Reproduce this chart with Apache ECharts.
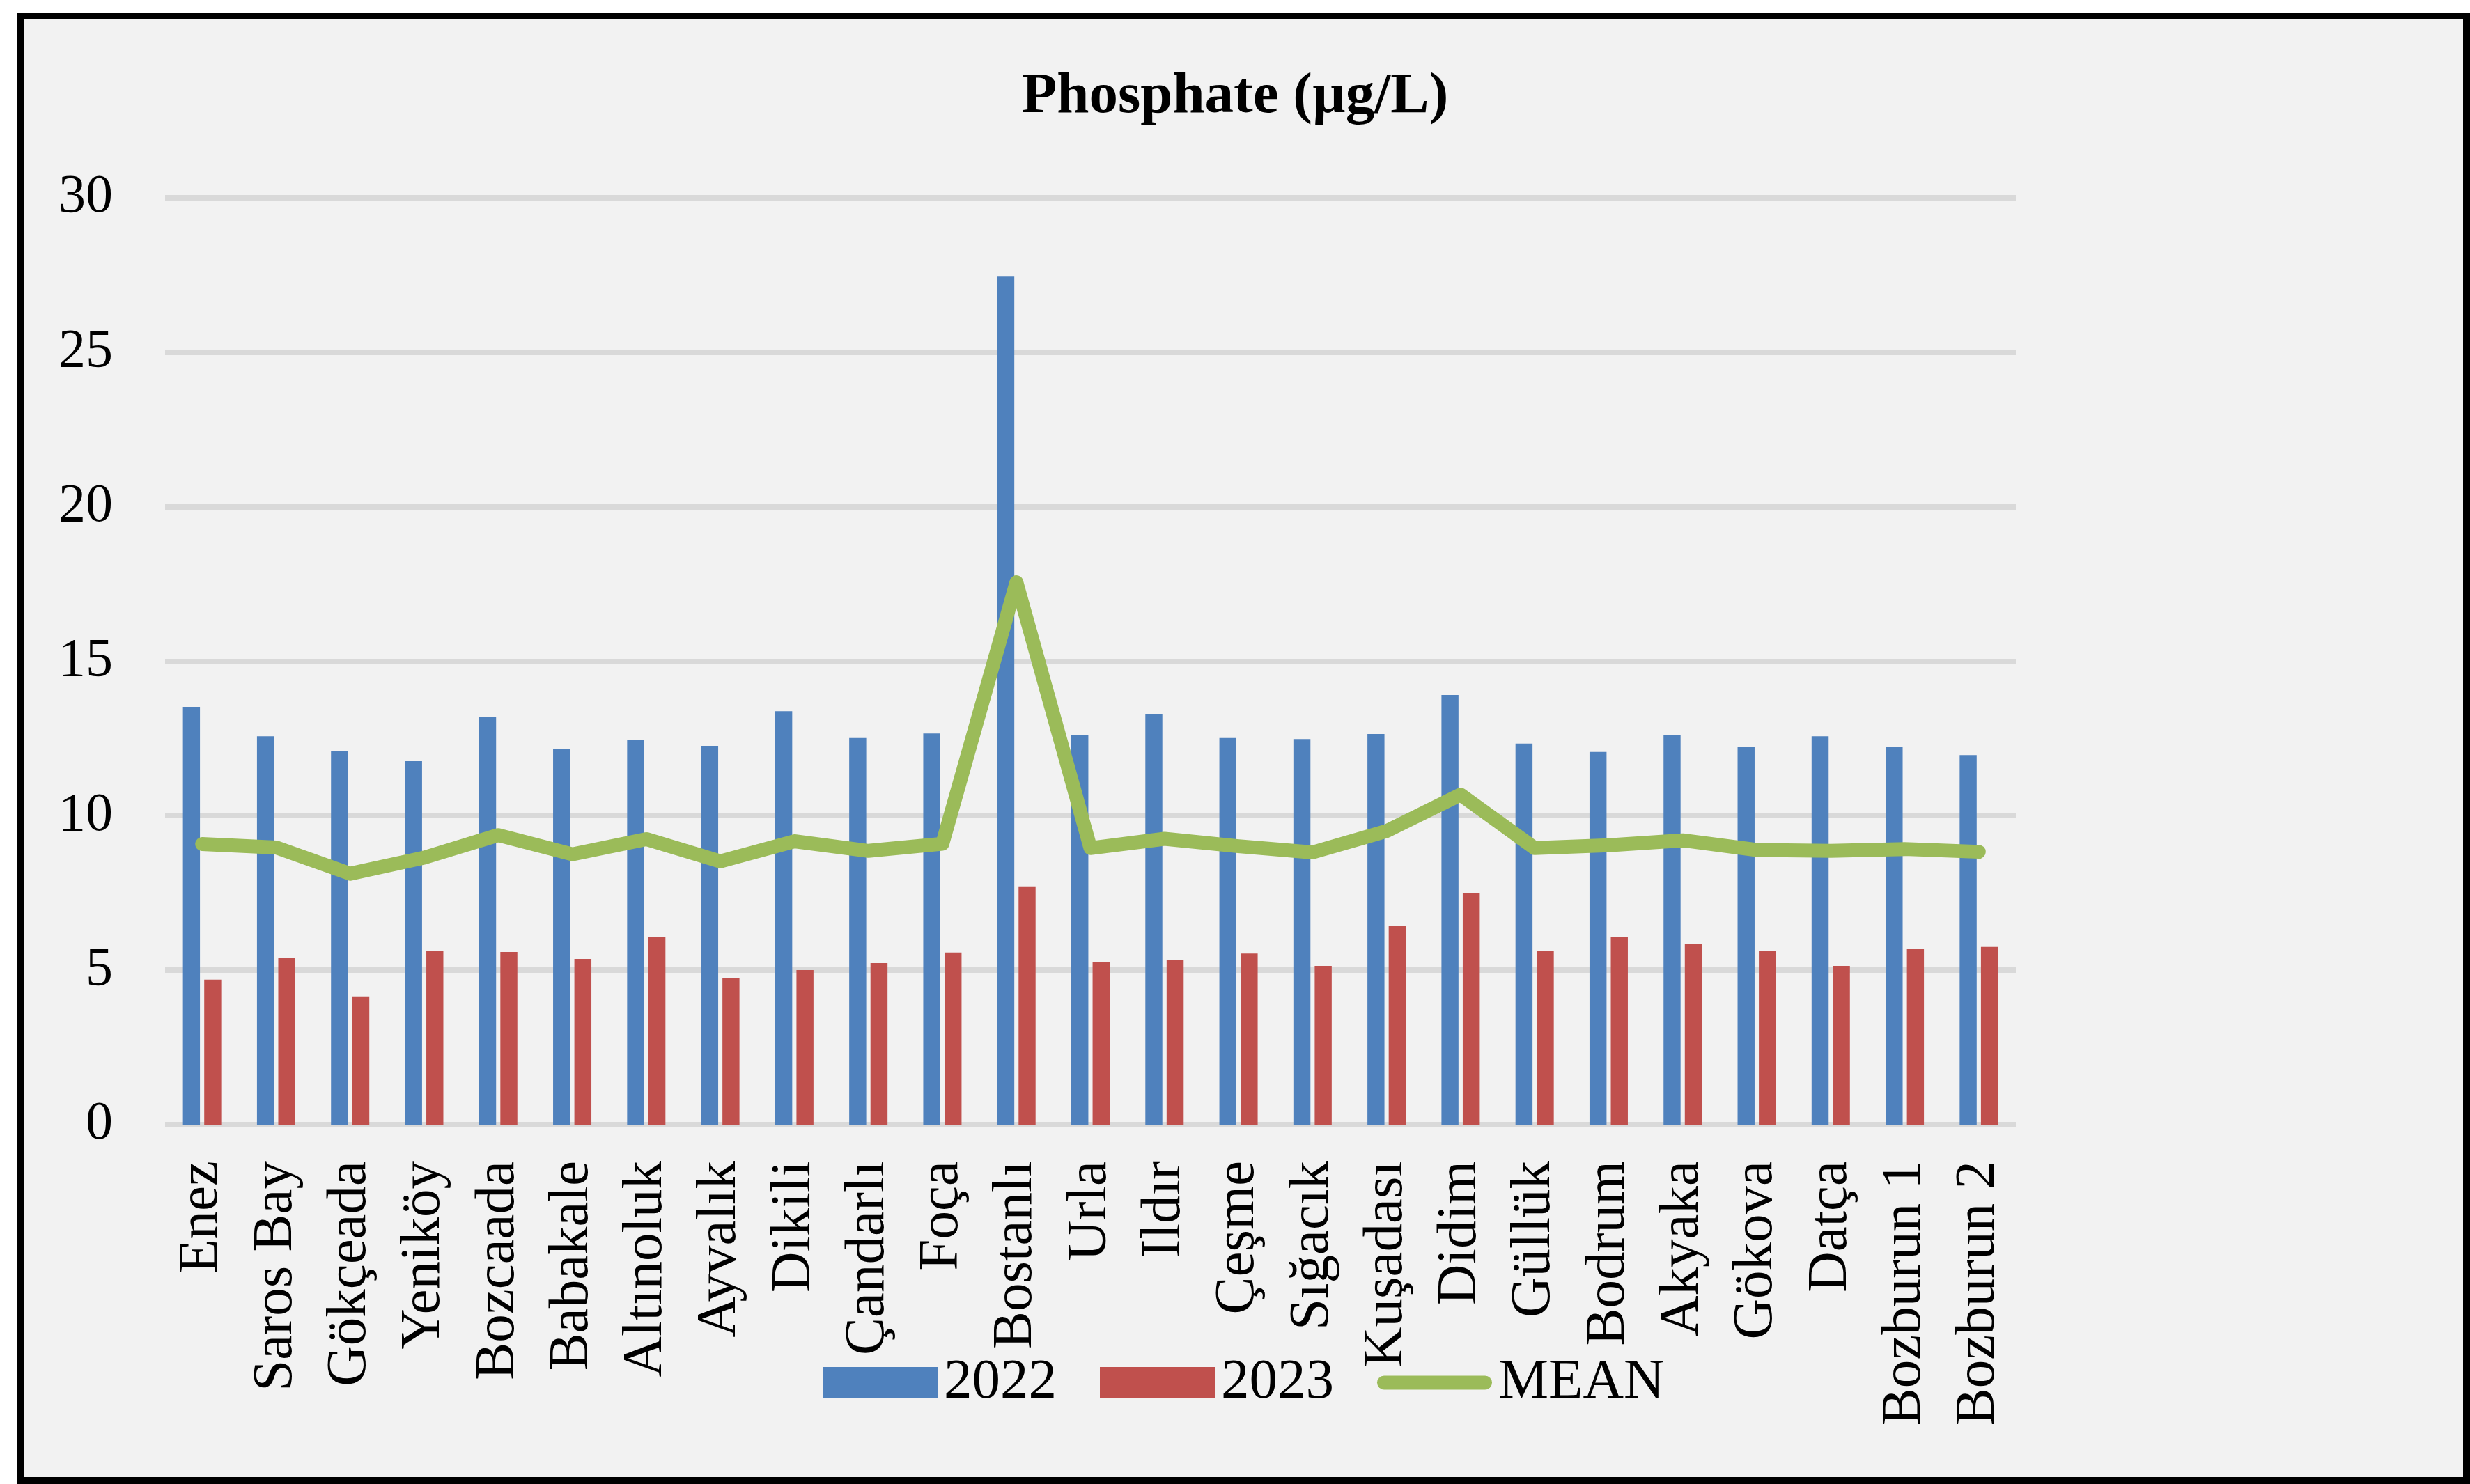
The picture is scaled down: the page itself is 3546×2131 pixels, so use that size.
<!DOCTYPE html>
<html>
<head>
<meta charset="utf-8">
<script src="https://cdn.jsdelivr.net/npm/echarts@6/dist/echarts.min.js"></script>
<style>
  html, body { margin:0; padding:0; background:#ffffff; }
  #frame { position:absolute; left:24px; top:18px; width:3522px; height:2113px; box-sizing:border-box; border:10px solid #000; background:#F2F2F2; }
  #chart { position:absolute; left:0; top:0; width:3546px; height:2131px; }
</style>
</head>
<body>
<div id="frame"></div>
<div id="chart"></div>
<script>
const categories = ['Enez','Saros Bay','Gökçeada','Yeniköy','Bozcaada','Babakale','Altınoluk','Ayvalık','Dikili','Çandarlı','Foça','Bostanlı','Urla','Ildır','Çeşme','Sığacık','Kuşadası','Didim','Güllük','Bodrum','Akyaka','Gökova','Datça','Bozburun 1','Bozburun 2'];
const values2022 = [13.52,12.57,12.10,11.76,13.20,12.15,12.44,12.26,13.38,12.51,12.66,27.44,12.62,13.27,12.51,12.48,12.64,13.90,12.33,12.06,12.60,12.21,12.57,12.21,11.96];
const values2023 = [4.69,5.39,4.15,5.61,5.59,5.36,6.08,4.75,5.00,5.23,5.57,7.71,5.27,5.32,5.54,5.14,6.42,7.50,5.61,6.08,5.84,5.61,5.14,5.68,5.75];
const valuesMean = [9.08,8.97,8.12,8.64,9.37,8.75,9.24,8.52,9.17,8.86,9.09,17.55,8.95,9.25,9.01,8.81,9.50,10.68,8.95,9.04,9.20,8.89,8.86,8.92,8.83];
const yTicks = { min: 0, max: 30, interval: 5 };

const FONT = '"Liberation Serif", "Times New Roman", serif';
const MEAN_ICON = 'path://M0,0 M165,45 M10,12.5 L155,12.5 A10,10 0 0 1 155,32.5 L10,32.5 A10,10 0 0 1 10,12.5 Z';
const chart = echarts.init(document.getElementById('chart'), null, { renderer: 'canvas' });
chart.setOption({
  backgroundColor: 'transparent',
  animation: false,
  title: {
    text: 'Phosphate (µg/L)',
    left: 'center',
    top: 98,
    padding: 0,
    textStyle: { fontFamily: FONT, fontWeight: 'bold', fontSize: 83, color: '#000' }
  },
  legend: {
    left: 1181,
    top: 1945,
    itemWidth: 165,
    itemHeight: 45,
    itemGap: 62,
    padding: 0,
    textStyle: { fontFamily: FONT, fontSize: 81, color: '#000', padding: [0, 0, 0, 4] },
    data: [{ name: '2022', icon: 'rect' }, { name: '2023', icon: 'rect' }, { name: 'MEAN', icon: MEAN_ICON }]
  },
  grid: { left: 237, right: 652, top: 283.6, bottom: 516, containLabel: false },
  xAxis: {
    type: 'category',
    data: categories,
    axisLine: { show: false },
    axisTick: { show: false },
    axisLabel: { interval: 0, rotate: 90, margin: 52, fontFamily: FONT, fontSize: 81, color: '#000' }
  },
  yAxis: {
    type: 'value',
    min: yTicks.min, max: yTicks.max, interval: yTicks.interval,
    axisLine: { show: false },
    axisTick: { show: false },
    splitLine: { lineStyle: { color: '#D9D9D9', width: 8 } },
    axisLabel: { margin: 75, fontFamily: FONT, fontSize: 78, color: '#000' }
  },
  series: [
    { name: '2022', type: 'bar', data: values2022, barWidth: '23%', barGap: '25%', itemStyle: { color: '#4F81BD' } },
    { name: '2023', type: 'bar', data: values2023, barWidth: '23%', barGap: '25%', itemStyle: { color: '#C0504D' } },
    { name: 'MEAN', type: 'line', data: valuesMean, symbol: 'none', showSymbol: false, z: 5,
      lineStyle: { color: '#9BBB59', width: 20, cap: 'round', join: 'round' },
      itemStyle: { color: '#9BBB59' } }
  ]
});
</script>
</body>
</html>
